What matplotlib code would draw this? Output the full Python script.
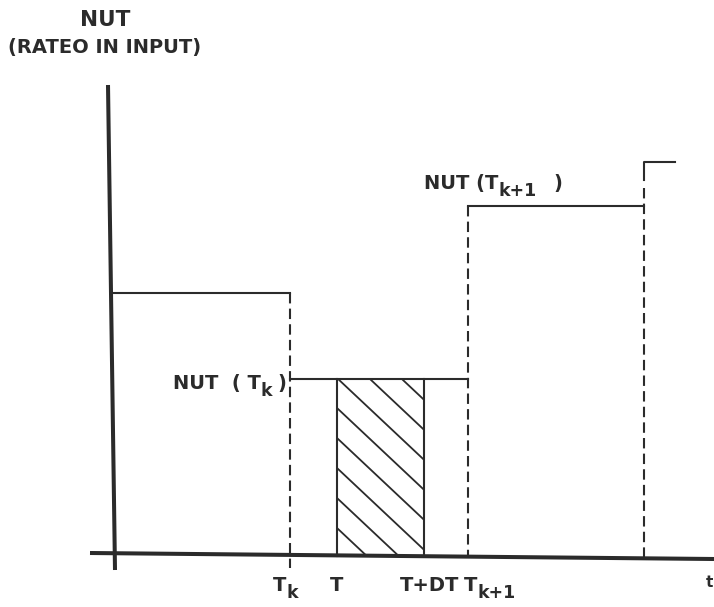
import numpy as np
import matplotlib.pyplot as plt
from matplotlib.patches import Rectangle

plt.rcParams['font.family'] = 'DejaVu Sans'
plt.rcParams['font.weight'] = 'bold'

# ----------------- DATA (time instants and NUT levels) -----------------
t_k = 178      # T_k
t_now = 225    # T
t_dt = 312     # T+DT
t_k1 = 356     # T_k+1
t_k2 = 532     # next instant
t_end = 563    # end of drawn stub after the last instant

nut_prev = 263   # level before T_k
nut_k = 177      # NUT(T_k)
nut_k1 = 350     # NUT(T_k+1)
nut_next = 394   # level after the last instant

# axes extents (slightly tilted, as in the scanned drawing)
yaxis_x = [-4, 3]
yaxis_y = [471, -14]
xaxis_x = [-22, 602]
xaxis_y = [3, -3]

ink = '#2b2b2b'

fig = plt.figure(figsize=(7.14, 6.07), dpi=100)
ax = fig.add_axes([0, 0, 1, 1])
ax.set_xlim(-112, 602)
ax.set_ylim(-51, 556)
ax.axis('off')

# ----------------- AXES -----------------
ax.plot(yaxis_x, yaxis_y, color=ink, lw=2.9, solid_capstyle='butt')
ax.plot(xaxis_x, xaxis_y, color=ink, lw=2.9, solid_capstyle='butt')

# ----------------- STEP FUNCTION -----------------
ax.plot([0, t_k], [nut_prev, nut_prev], color=ink, lw=1.5)
ax.plot([t_k, t_k1], [nut_k, nut_k], color=ink, lw=1.5)
ax.plot([t_k1, t_k2], [nut_k1, nut_k1], color=ink, lw=1.5)
ax.plot([t_k2, t_k2, t_end], [nut_next - 18, nut_next, nut_next], color=ink, lw=1.5)

# dashed vertical jumps
dash = (0, (5, 2.5))
ax.plot([t_k, t_k], [nut_prev, -12], color=ink, lw=1.5, linestyle=dash)
ax.plot([t_k1, t_k1], [nut_k1, 0], color=ink, lw=1.5, linestyle=dash)
ax.plot([t_k2, t_k2], [nut_next - 26, -6], color=ink, lw=1.5, linestyle=dash)

# ----------------- HATCHED INTERVAL [T, T+DT] -----------------
rect = Rectangle((t_now, 0), t_dt - t_now, nut_k, fill=False, edgecolor='none')
ax.add_patch(rect)
ax.plot([t_now, t_now], [0, nut_k], color=ink, lw=1.5)
ax.plot([t_dt, t_dt], [0, nut_k], color=ink, lw=1.5)

xs = np.array([t_now, t_dt])
for c in np.arange(238, 0, -30):
    ln, = ax.plot(xs, c - 0.94 * (xs - t_now), color=ink, lw=1.3)
    ln.set_clip_path(rect)


# ----------------- TEXT -----------------
def label(x, y, main, sub, tail='', gap=1, size=14, subsize=12.5):
    # main text, lowered subscript, then optional tail back on the baseline
    t1 = ax.text(x, y, main, ha='left', va='baseline', fontsize=size, color=ink)
    t2 = ax.annotate(sub, xy=(1, 0), xycoords=t1, xytext=(0, -2.5),
                     textcoords='offset points', ha='left', va='baseline',
                     fontsize=subsize, color=ink)
    if tail:
        ax.annotate(tail, xy=(1, 0), xycoords=(t2, t1), xytext=(gap, 0),
                    textcoords='offset points', ha='left', va='bottom',
                    fontsize=size, color=ink)


ax.text(-7, 530, 'NUT', ha='center', va='baseline', fontsize=15.5, color=ink)
ax.text(-7, 503, '(RATEO IN INPUT)', ha='center', va='baseline', fontsize=14, color=ink)

label(t_k - 117, nut_k - 10, 'NUT  ( T', 'k', ')', gap=4)
label(t_k1 - 44, nut_k1 + 17, 'NUT (T', 'k+1', ')', gap=12)

label(t_k - 17, -35, 'T', 'k')
ax.text(t_now, -35, 'T', ha='center', va='baseline', fontsize=14, color=ink)
ax.text(t_dt + 6, -35, 'T+DT', ha='center', va='baseline', fontsize=14, color=ink)
label(t_k1 - 4, -35, 'T', 'k+1')
ax.text(597, -31, 't', ha='center', va='baseline', fontsize=11, color=ink)

plt.savefig('out.png', dpi=100)
